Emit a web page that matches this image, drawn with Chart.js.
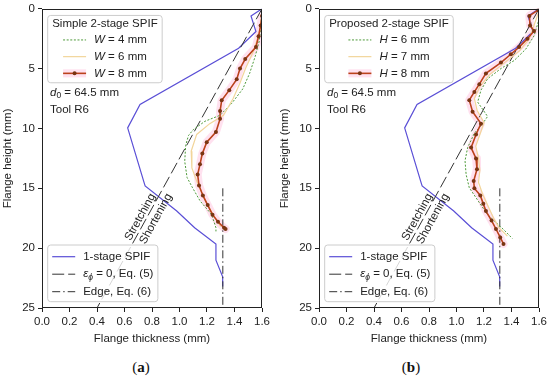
<!DOCTYPE html>
<html>
<head>
<meta charset="utf-8">
<script src="https://cdn.jsdelivr.net/npm/chart.js@4.4.0/dist/chart.umd.min.js"></script>
<style>
  html, body { margin: 0; padding: 0; background: #fff; }
  body { width: 550px; height: 379px; position: relative; overflow: hidden; }
  .panel { position: absolute; top: 0; width: 275px; height: 352px; }
  .cap { position: absolute; top: 359px; width: 60px; text-align: center; font: 15px "Liberation Serif", "DejaVu Serif", serif; color: #111; }
</style>
</head>
<body>
<div class="panel" style="left:0"><canvas id="chartA"></canvas></div>
<div class="panel" style="left:277px"><canvas id="chartB"></canvas></div>
<div class="cap" style="left:111px">(<b>a</b>)</div>
<div class="cap" style="left:381px">(<b>b</b>)</div>
<script>
// axis ticks
const thicknessTicks = [0, 0.2, 0.4, 0.6, 0.8, 1.0, 1.2, 1.4, 1.6];
const heightTicks = [0, 5, 10, 15, 20, 25];

// 1-stage SPIF (same in both panels)
const oneStageT = [1.6, 1.52, 1.556, 1.43, 0.713, 0.623, 0.742, 0.75, 0.98, 1.11, 1.265, 1.265, 1.314, 1.314];
const oneStageH = [0, 0.6, 1.9, 3.3, 8.0, 9.95, 14.5, 14.8, 16.9, 18.3, 19.65, 21.0, 22.4, 23.2];

// eps_phi = 0, Eq. (5) and Edge, Eq. (6)
const zeroStrainT = [1.6, 0.4];
const zeroStrainH = [0, 25];
const edgeT = [1.315, 1.315];
const edgeH = [15, 25];

// (a) simple 2-stage SPIF
const simpleParam = 'W';
const simpleValues = [4, 6, 8];
const simpleW4T = [1.6, 1.585, 1.58, 1.55, 1.51, 1.46, 1.38, 1.295, 1.185, 1.10, 1.065, 1.045, 1.038, 1.055, 1.095, 1.15, 1.234, 1.265, 1.265];
const simpleW4H = [0.3, 2.2, 2.7, 4.0, 5.4, 6.7, 7.9, 8.9, 9.4, 10.1, 10.6, 11.4, 12.75, 14.1, 14.96, 16.06, 17.2, 18.3, 18.6];
const simpleW6T = [1.6, 1.58, 1.54, 1.48, 1.44, 1.39, 1.32, 1.22, 1.125, 1.085, 1.09, 1.125, 1.16, 1.2, 1.25, 1.30];
const simpleW6H = [0.5, 2.0, 3.5, 5.0, 6.2, 7.5, 8.9, 9.6, 10.5, 11.9, 13.3, 14.4, 15.3, 16.3, 17.3, 18.2];
const simpleW8T = [1.6, 1.59, 1.575, 1.556, 1.478, 1.44, 1.416, 1.362, 1.307, 1.295, 1.295, 1.265, 1.198, 1.166, 1.149, 1.132, 1.142, 1.17, 1.205, 1.24, 1.28, 1.324, 1.335];
const simpleW8H = [0.6, 1.4, 2.3, 3.2, 4.2, 5.0, 5.9, 6.8, 7.65, 8.55, 9.2, 10.3, 11.15, 12.1, 13.0, 13.85, 14.76, 15.6, 16.4, 17.2, 17.8, 18.3, 18.4];

// (b) proposed 2-stage SPIF
const proposedParam = 'H';
const proposedValues = [6, 7, 8];
const proposedH6T = [1.6, 1.6, 1.564, 1.504, 1.419, 1.323, 1.226, 1.178, 1.154, 1.226, 1.19, 1.13, 1.081, 1.062, 1.07, 1.093, 1.158, 1.226, 1.287, 1.347, 1.407];
const proposedH6H = [0.2, 0.9, 2.26, 3.37, 4.33, 5.0, 5.85, 6.8, 7.8, 9.0, 9.6, 10.4, 11.6, 12.7, 13.85, 14.96, 16.06, 17.2, 17.85, 18.5, 19.2];
const proposedH7T = [1.6, 1.56, 1.53, 1.46, 1.35, 1.24, 1.17, 1.13, 1.15, 1.2, 1.17, 1.14, 1.16, 1.17, 1.16, 1.19, 1.23, 1.27, 1.31, 1.37];
const proposedH7H = [0.2, 1.5, 2.5, 3.5, 4.5, 5.5, 6.5, 7.5, 8.5, 9.5, 10.5, 11.5, 12.5, 13.5, 14.5, 15.5, 16.5, 17.5, 18.3, 19.0];
const proposedH8T = [1.595, 1.53, 1.535, 1.564, 1.516, 1.455, 1.395, 1.323, 1.214, 1.166, 1.13, 1.093, 1.117, 1.178, 1.142, 1.106, 1.142, 1.149, 1.125, 1.13, 1.173, 1.195, 1.214, 1.255, 1.287, 1.318, 1.342];
const proposedH8H = [0.1, 0.6, 1.4, 1.85, 2.5, 3.2, 3.8, 4.5, 5.4, 6.3, 6.95, 7.64, 8.6, 9.6, 10.5, 11.6, 12.5, 13.4, 14.4, 15.0, 15.6, 16.3, 16.9, 17.7, 18.4, 19.1, 19.65];

const regimeAt = 17.5; // height where Stretching/Shortening sits on the eps line

const FONT = '"Liberation Sans", Arial, sans-serif';
const BLUE = '#5a4fd6';
const GREEN = '#4e9a3a';
const LIGHT = '#f2d59a';
const BROWN = '#bb421c';
const BROWN_DARK = '#7a3512';
const BAND = 'rgba(255, 170, 210, 0.35)';

const styleW4 = {color: GREEN, width: 1, dash: [2, 1.6]};
const styleW6 = {color: LIGHT, width: 1.2};
const styleW8 = {color: BROWN, width: 1.6, marker: BROWN_DARK, band: BAND};
const styleOne = {color: BLUE, width: 1.2};
const styleEps = {color: '#333', width: 1, dash: [12, 4]};
const styleEdge = {color: '#333', width: 1, dash: [8, 3, 1.5, 3]};

const pts = (ts, hs) => ts.map((t, i) => ({x: t, y: hs[i]}));

function setFont(ctx, size, italic) {
  ctx.font = (italic ? 'italic ' : '') + size + 'px ' + FONT;
}

function richWidth(ctx, parts) {
  let w = 0;
  parts.forEach(p => { setFont(ctx, p.sub ? 8.5 : 11.5, p.it); w += ctx.measureText(p.t).width; });
  return w;
}

function drawRich(ctx, parts, x, y) {
  ctx.textAlign = 'left';
  ctx.textBaseline = 'middle';
  ctx.fillStyle = '#222';
  parts.forEach(p => {
    setFont(ctx, p.sub ? 8.5 : 11.5, p.it);
    ctx.fillText(p.t, x, y + (p.sub ? 3 : 0));
    x += ctx.measureText(p.t).width;
  });
}

function drawHandle(ctx, x0, x1, y, st) {
  if (st.band) {
    ctx.fillStyle = st.band;
    ctx.fillRect(x0, y - 4, x1 - x0, 8);
  }
  ctx.strokeStyle = st.color;
  ctx.lineWidth = st.width;
  ctx.setLineDash(st.dash || []);
  ctx.beginPath();
  ctx.moveTo(x0, y);
  ctx.lineTo(x1, y);
  ctx.stroke();
  ctx.setLineDash([]);
  if (st.marker) {
    ctx.fillStyle = st.marker;
    ctx.beginPath();
    ctx.arc((x0 + x1) / 2, y, 2, 0, 2 * Math.PI);
    ctx.fill();
  }
}

function drawBox(ctx, x, y, w, h) {
  ctx.fillStyle = 'rgba(255,255,255,0.8)';
  ctx.strokeStyle = '#cccccc';
  ctx.lineWidth = 1;
  ctx.beginPath();
  ctx.roundRect(x, y, w, h, 3);
  ctx.fill();
  ctx.stroke();
}

const HANDLE = 23, GAP = 8, PAD = 4.5;

const decorPlugin = {
  id: 'decor',
  afterDatasetsDraw(chart, args, opts) {
    const {ctx, chartArea: area, scales} = chart;
    const xs = scales.x, ys = scales.y;
    ctx.save();

    // axes frame
    ctx.strokeStyle = '#222';
    ctx.lineWidth = 1;
    ctx.strokeRect(Math.round(area.left) + 0.5, Math.round(area.top) + 0.5,
      Math.round(area.width) - 1, Math.round(area.height) - 1);

    // Stretching / Shortening along the eps line
    const p0 = {x: xs.getPixelForValue(zeroStrainT[0]), y: ys.getPixelForValue(zeroStrainH[0])};
    const p1 = {x: xs.getPixelForValue(zeroStrainT[1]), y: ys.getPixelForValue(zeroStrainH[1])};
    const f = (regimeAt - zeroStrainH[0]) / (zeroStrainH[1] - zeroStrainH[0]);
    ctx.save();
    ctx.translate(p0.x + (p1.x - p0.x) * f, p0.y + (p1.y - p0.y) * f);
    ctx.rotate(Math.atan2(p0.y - p1.y, p0.x - p1.x));
    setFont(ctx, 11.5);
    ctx.fillStyle = '#222';
    ctx.textAlign = 'center';
    ctx.textBaseline = 'middle';
    ctx.fillText('Stretching', -2, -6);
    ctx.fillText('Shortening', 4, 8.5);
    ctx.restore();

    // upper legend
    const entries = opts.values.map((v, i) => ({
      parts: [{t: opts.param, it: true}, {t: ' = ' + v + ' mm'}],
      st: opts.styles[i]
    }));
    setFont(ctx, 11.5);
    const titleW = ctx.measureText(opts.title).width;
    const textW = Math.max(...entries.map(e => richWidth(ctx, e.parts)));
    const blockW = HANDLE + GAP + textW;
    const boxW = Math.max(titleW, blockW) + 2 * PAD;
    const bx = area.left + 5.7, by = area.top + 6.7;
    drawBox(ctx, bx, by, boxW, 67.3);
    setFont(ctx, 11.5);
    ctx.fillStyle = '#222';
    ctx.textAlign = 'center';
    ctx.textBaseline = 'middle';
    ctx.fillText(opts.title, bx + boxW / 2, by + 8.5);
    const ex = bx + (boxW - blockW) / 2;
    entries.forEach((e, i) => {
      const ey = by + 24.5 + i * 16.7;
      drawHandle(ctx, ex, ex + HANDLE, ey, e.st);
      drawRich(ctx, e.parts, ex + HANDLE + GAP, ey);
    });

    // d0 / tool
    drawRich(ctx, [{t: 'd', it: true}, {t: '0', sub: true}, {t: ' = ' + opts.d0 + ' mm'}], area.left + 8, area.top + 84);
    drawRich(ctx, [{t: 'Tool ' + opts.tool}], area.left + 8, area.top + 100.7);

    // lower legend
    const low = [
      {parts: [{t: '1-stage SPIF'}], st: styleOne},
      {parts: [{t: 'ε', it: true}, {t: 'ϕ', it: true, sub: true}, {t: ' = 0, Eq. (5)'}], st: styleEps},
      {parts: [{t: 'Edge, Eq. (6)'}], st: styleEdge}
    ];
    const lowW = Math.max(...low.map(e => richWidth(ctx, e.parts)));
    const lw = PAD + HANDLE + GAP + lowW + PAD;
    const lh = 56.7;
    const ly = area.bottom - 6.3 - lh;
    drawBox(ctx, bx, ly, lw, lh);
    low.forEach((e, i) => {
      const ey = ly + 11.7 + i * 17.5;
      drawHandle(ctx, bx + PAD, bx + PAD + HANDLE, ey, e.st);
      drawRich(ctx, e.parts, bx + PAD + HANDLE + GAP, ey);
    });

    ctx.restore();
  }
};

function lineSet(ts, hs, st, order, extra) {
  return Object.assign({
    data: pts(ts, hs),
    showLine: true,
    borderColor: st.color,
    borderWidth: st.width,
    borderDash: st.dash || [],
    pointRadius: 0,
    tension: 0,
    fill: false,
    order: order
  }, extra || {});
}

function makeChart(id, series, param, values, title) {
  const [s1, s2, s3] = series;
  const datasets = [
    lineSet(s3[0], s3[1], {color: BAND, width: 8}, 10, {borderJoinStyle: 'round', borderCapStyle: 'round'}),
    lineSet(oneStageT, oneStageH, styleOne, 5),
    lineSet(zeroStrainT, zeroStrainH, styleEps, 4),
    lineSet(edgeT, edgeH, styleEdge, 4),
    lineSet(s1[0], s1[1], styleW4, 3),
    lineSet(s2[0], s2[1], styleW6, 2),
    lineSet(s3[0], s3[1], styleW8, 1, {pointRadius: 2, pointBackgroundColor: BROWN_DARK, pointBorderWidth: 0})
  ];
  const tickFont = {family: FONT, size: 11.5, lineHeight: 1.0};
  return new Chart(document.getElementById(id), {
    type: 'scatter',
    data: {datasets},
    options: {
      responsive: true,
      maintainAspectRatio: false,
      animation: false,
      events: [],
      layout: {padding: {top: 6, right: 13, left: 0, bottom: 0}},
      plugins: {
        legend: {display: false},
        tooltip: {enabled: false},
        decor: {title, param, values, styles: [styleW4, styleW6, styleW8], d0: '64.5', tool: 'R6'}
      },
      scales: {
        x: {
          type: 'linear', min: 0, max: 1.6,
          afterBuildTicks: s => { s.ticks = thicknessTicks.map(v => ({value: v})); },
          afterFit: s => { s.height = 44; },
          ticks: {callback: v => v.toFixed(1), font: {family: FONT, size: 11.5}, color: '#222', padding: 3, maxRotation: 0, autoSkip: false},
          grid: {drawOnChartArea: false, tickLength: 4, color: '#222'},
          border: {display: false},
          title: {display: true, text: 'Flange thickness (mm)', font: {family: FONT, size: 11.5}, color: '#222', padding: {top: 0, bottom: 6}}
        },
        y: {
          type: 'linear', reverse: true, min: 0, max: 25,
          afterBuildTicks: s => { s.ticks = heightTicks.map(v => ({value: v})); },
          afterFit: s => { s.width = 42; },
          ticks: {callback: v => String(v), font: tickFont, color: '#222', padding: 3, autoSkip: false},
          grid: {drawOnChartArea: false, tickLength: 4, color: '#222'},
          border: {display: false},
          title: {display: true, text: 'Flange height (mm)', font: {family: FONT, size: 11.5}, color: '#222', padding: {top: 1, bottom: 0}}
        }
      }
    },
    plugins: [decorPlugin]
  });
}

makeChart('chartA',
  [[simpleW4T, simpleW4H], [simpleW6T, simpleW6H], [simpleW8T, simpleW8H]],
  simpleParam, simpleValues, 'Simple 2-stage SPIF');
makeChart('chartB',
  [[proposedH6T, proposedH6H], [proposedH7T, proposedH7H], [proposedH8T, proposedH8H]],
  proposedParam, proposedValues, 'Proposed 2-stage SPIF');
</script>
</body>
</html>
